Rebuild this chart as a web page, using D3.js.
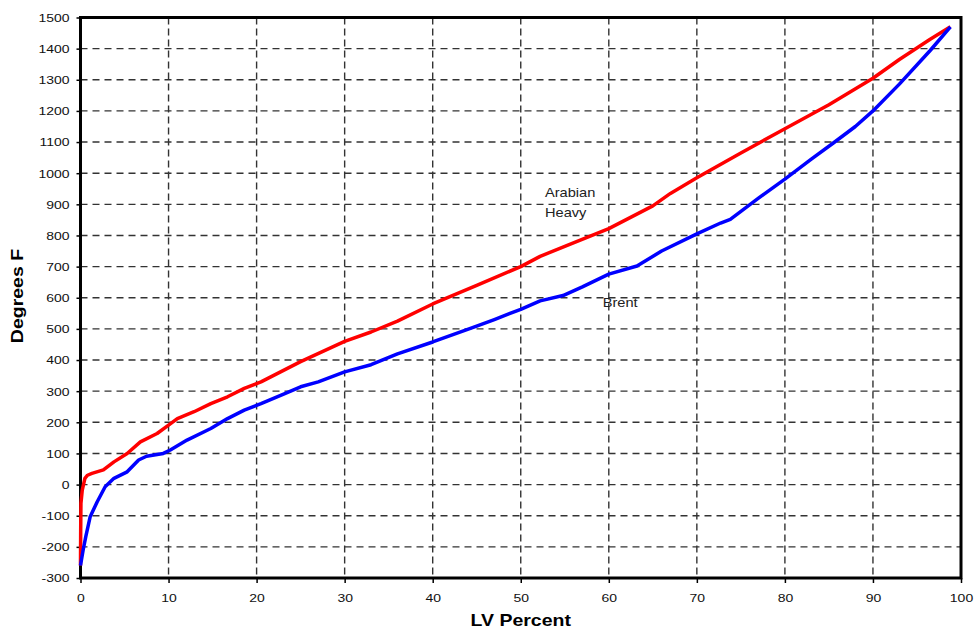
<!DOCTYPE html>
<html>
<head>
<meta charset="utf-8">
<script src="https://cdn.jsdelivr.net/npm/d3@7"></script>
<style>
  body { margin: 0; background: #fff; }
  text { font-family: "Liberation Sans", Arial, sans-serif; }
</style>
</head>
<body>
<div id="chart"></div>
<script>
// LV percent (x) vs temperature in degrees F (y)
const heavyX = [0, 0.02, 0.05, 0.2, 0.5, 0.8, 1.3, 2.6, 3.8, 5.3, 6.8, 8.7, 10, 11, 12.9, 14.8, 16.7, 18.6, 20.5, 25, 30, 33, 36, 40, 45, 50, 52.2, 55, 60, 65, 67, 70, 75, 80, 85, 90, 93, 96.5, 98.8]
const heavyY = [-260, -150, -60, -18, 20, 30, 36, 47, 73, 100, 137, 164, 191, 212, 234, 260, 282, 309, 330, 395, 460, 490, 525, 580, 640, 700, 733, 765, 822, 895, 935, 985, 1065, 1143, 1220, 1305, 1365, 1430, 1470]

const brentX = [0, 0.3, 0.6, 1.1, 1.9, 2.8, 3.8, 5.3, 6.6, 7.5, 9.4, 10.2, 12.1, 14.8, 16.7, 18.6, 20.5, 23, 25, 27, 30, 33, 36, 40, 44.6, 47, 50, 52.2, 54.8, 57, 60, 63.2, 66, 70, 72.7, 73.8, 77, 80, 83, 85.5, 88, 90, 93, 96.5, 98.8]
const brentY = [-260, -210, -167, -103, -55, -7, 20, 41, 79, 91, 100, 111, 143, 180, 212, 239, 260, 290, 314, 330, 362, 385, 420, 458, 505, 530, 563, 590, 607, 635, 676, 702, 750, 805, 840, 852, 920, 981, 1045, 1097, 1150, 1200, 1286, 1394, 1470]

const xTicks = [0, 10, 20, 30, 40, 50, 60, 70, 80, 90, 100]
const yTicks = [-300, -200, -100, 0, 100, 200, 300, 400, 500, 600, 700, 800, 900, 1000, 1100, 1200, 1300, 1400, 1500]

const W = 974, H = 631
const plotL = 80.5, plotR = 961, plotT = 17.5, plotB = 578
const stretch = 1.27 // the old chart font is wide

const svg = d3.select("#chart").append("svg")
    .attr("width", W)
    .attr("height", H)

const x = d3.scaleLinear().domain([0, 100]).range([plotL, plotR])
const y = d3.scaleLinear().domain([-300, 1500]).range([plotB, plotT])

// plain numbers with a hyphen minus, like the original
const fmt = d => String(d)

// dashed grid
svg.append("g")
    .selectAll("line")
    .data(xTicks.slice(1, -1))
    .enter().append("line")
    .attr("x1", d => x(d)).attr("x2", d => x(d))
    .attr("y1", plotT).attr("y2", plotB)
    .attr("stroke", "#333")
    .attr("stroke-width", 1.4)
    .attr("stroke-dasharray", "7,4")

svg.append("g")
    .selectAll("line")
    .data(yTicks.slice(1, -1))
    .enter().append("line")
    .attr("x1", plotL).attr("x2", plotR)
    .attr("y1", d => y(d)).attr("y2", d => y(d))
    .attr("stroke", "#333")
    .attr("stroke-width", 1.4)
    .attr("stroke-dasharray", "7,5")

// axes
const xAxis = svg.append("g")
    .attr("transform", "translate(0," + plotB + ")")
    .call(d3.axisBottom(x).tickValues(xTicks).tickFormat(fmt).tickSize(5).tickSizeOuter(0))
xAxis.select(".domain").remove()
xAxis.selectAll("line").attr("stroke", "#000").attr("stroke-width", 1.5)
xAxis.selectAll("text")
    .attr("y", 0).attr("dy", 0)
    .attr("transform", "translate(0,24) scale(" + stretch + ",1)")
    .attr("font-size", 11)
    .attr("fill", "#111")

const yAxis = svg.append("g")
    .attr("transform", "translate(" + plotL + ",0)")
    .call(d3.axisLeft(y).tickValues(yTicks).tickFormat(fmt).tickSize(4).tickSizeOuter(0))
yAxis.select(".domain").remove()
yAxis.selectAll("line").attr("stroke", "#000").attr("stroke-width", 1.5)
yAxis.selectAll("text")
    .attr("x", 0).attr("dy", "0.35em")
    .attr("transform", "translate(-11,0) scale(" + stretch + ",1)")
    .attr("font-size", 11)
    .attr("fill", "#111")

// frame
svg.append("rect")
    .attr("x", plotL).attr("y", plotT)
    .attr("width", plotR - plotL).attr("height", plotB - plotT)
    .attr("fill", "none")
    .attr("stroke", "#000")
    .attr("stroke-width", 3)

// curves
const line = d3.line()
    .x(d => x(d[0]))
    .y(d => y(d[1]))

const heavy = heavyX.map((v, i) => [v, heavyY[i]])
const brent = brentX.map((v, i) => [v, brentY[i]])

svg.append("path")
    .datum(heavy)
    .attr("d", line)
    .attr("fill", "none")
    .attr("stroke", "#ff0000")
    .attr("stroke-width", 3.5)
    .attr("stroke-linejoin", "round")

svg.append("path")
    .datum(brent)
    .attr("d", line)
    .attr("fill", "none")
    .attr("stroke", "#0000ff")
    .attr("stroke-width", 3.5)
    .attr("stroke-linejoin", "round")

// curve labels
const labels = [
    { t: "Arabian", px: 52.75, v: 922 },
    { t: "Heavy", px: 52.75, v: 859 },
    { t: "Brent", px: 59.3, v: 570 }
]
svg.append("g")
    .selectAll("text")
    .data(labels)
    .enter().append("text")
    .attr("transform", d => "translate(" + x(d.px) + "," + y(d.v) + ") scale(1.22,1)")
    .attr("font-size", 12)
    .attr("fill", "#222")
    .text(d => d.t)

// axis titles
svg.append("text")
    .attr("transform", "translate(" + (plotL + plotR) / 2 + ",626) scale(1.22,1)")
    .attr("text-anchor", "middle")
    .attr("font-size", 16)
    .attr("font-weight", "bold")
    .text("LV Percent")

svg.append("text")
    .attr("transform", "translate(23,296) rotate(-90) scale(1.22,1)")
    .attr("text-anchor", "middle")
    .attr("font-size", 16)
    .attr("font-weight", "bold")
    .text("Degrees F")
</script>
</body>
</html>
